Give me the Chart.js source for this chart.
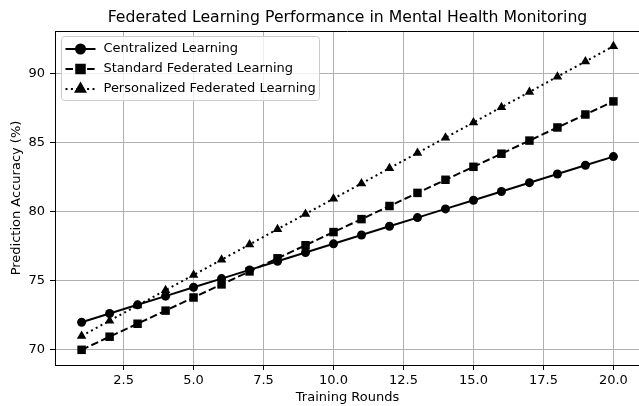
<!DOCTYPE html>
<html>
<head>
<meta charset="utf-8">
<script src="https://cdn.jsdelivr.net/npm/chart.js@4.4.1/dist/chart.umd.min.js"></script>
<style>
  html, body { margin: 0; padding: 0; overflow: hidden; background: #fff; }
  canvas { display: block; }
</style>
</head>
<body>
<canvas id="perfChart" width="640" height="406"></canvas>
<script>
// training rounds 1..20
const rounds = [1, 2, 3, 4, 5, 6, 7, 8, 9, 10, 11, 12, 13, 14, 15, 16, 17, 18, 19, 20];

// accuracy (%)
const centralized = [72.0, 72.63, 73.26, 73.89, 74.53, 75.16, 75.79, 76.42, 77.05, 77.68,
                     78.32, 78.95, 79.58, 80.21, 80.84, 81.47, 82.11, 82.74, 83.37, 84.0];
const standardFL = [70.0, 70.95, 71.89, 72.84, 73.79, 74.74, 75.68, 76.63, 77.58, 78.53,
                    79.47, 80.42, 81.37, 82.32, 83.26, 84.21, 85.16, 86.11, 87.05, 88.0];
const personalizedFL = [71.0, 72.11, 73.21, 74.32, 75.42, 76.53, 77.63, 78.74, 79.84, 80.95,
                        82.05, 83.16, 84.26, 85.37, 86.47, 87.58, 88.68, 89.79, 90.89, 92.0];

const seriesNames = ["Centralized Learning", "Standard Federated Learning", "Personalized Federated Learning"];

const xTicks = [2.5, 5.0, 7.5, 10.0, 12.5, 15.0, 17.5, 20.0];
const yTicks = [70, 75, 80, 85, 90];

const FONT = "'DejaVu Sans', sans-serif";

function toPoints(vals) {
    return vals.map((v, i) => ({ x: rounds[i], y: v }));
}

// title, top spine and the boxed legend (matplotlib style)
const extrasPlugin = {
    id: "extras",
    afterDraw(chart) {
        const ctx = chart.ctx;
        const area = chart.chartArea;
        ctx.save();

        // top spine
        ctx.strokeStyle = "#000";
        ctx.lineWidth = 1;
        ctx.beginPath();
        ctx.moveTo(area.left, area.top + 0.5);
        ctx.lineTo(area.right, area.top + 0.5);
        ctx.stroke();

        // title
        ctx.fillStyle = "#000";
        ctx.font = "15.7px " + FONT;
        ctx.textAlign = "center";
        ctx.textBaseline = "middle";
        ctx.fillText("Federated Learning Performance in Mental Health Monitoring", (area.left + area.right) / 2, 18);

        // legend frame
        const bx = area.left + 6.5, by = area.top + 5.5, bw = 258, bh = 64, r = 3;
        ctx.beginPath();
        ctx.moveTo(bx + r, by);
        ctx.arcTo(bx + bw, by, bx + bw, by + bh, r);
        ctx.arcTo(bx + bw, by + bh, bx, by + bh, r);
        ctx.arcTo(bx, by + bh, bx, by, r);
        ctx.arcTo(bx, by, bx + bw, by, r);
        ctx.closePath();
        ctx.fillStyle = "rgba(255,255,255,0.8)";
        ctx.fill();
        ctx.strokeStyle = "#cccccc";
        ctx.stroke();

        chart.data.datasets.forEach((ds, i) => {
            const yy = by + 12.5 + i * 20;
            ctx.strokeStyle = ds.borderColor;
            ctx.lineWidth = ds.borderWidth;
            ctx.setLineDash(ds.borderDash || []);
            ctx.beginPath();
            ctx.moveTo(bx + 4, yy);
            ctx.lineTo(bx + 34, yy);
            ctx.stroke();
            ctx.setLineDash([]);
            Chart.helpers.drawPoint(ctx, {
                pointStyle: ds.pointStyle,
                radius: ds.pointRadius,
                borderWidth: 1,
                rotation: 0
            }, bx + 19, yy);
            ctx.fillStyle = "#000";
            ctx.fill();
            ctx.fillStyle = "#000";
            ctx.font = "13px " + FONT;
            ctx.textAlign = "left";
            ctx.textBaseline = "middle";
            ctx.fillText(ds.label, bx + 42, yy);
        });
        ctx.restore();
    }
};

const chart = new Chart(document.getElementById("perfChart").getContext("2d"), {
    type: "line",
    data: {
        datasets: [
            {
                label: seriesNames[0],
                data: toPoints(centralized),
                borderColor: "#000",
                backgroundColor: "#000",
                borderWidth: 2,
                pointStyle: "circle",
                pointRadius: 4.5,
                pointBorderWidth: 0
            },
            {
                label: seriesNames[1],
                data: toPoints(standardFL),
                borderColor: "#000",
                backgroundColor: "#000",
                borderWidth: 2,
                borderDash: [7.5, 3.3],
                pointStyle: "rect",
                pointRadius: 6,
                pointBorderWidth: 0
            },
            {
                label: seriesNames[2],
                data: toPoints(personalizedFL),
                borderColor: "#000",
                backgroundColor: "#000",
                borderWidth: 2,
                borderDash: [2, 3.4],
                pointStyle: "triangle",
                pointRadius: 5.5,
                pointBorderWidth: 0
            }
        ]
    },
    options: {
        responsive: false,
        animation: false,
        layout: { autoPadding: false, padding: { top: 31, left: 0, right: 0, bottom: 0 } },
        plugins: {
            legend: { display: false },
            title: { display: false },
            tooltip: { enabled: false }
        },
        scales: {
            x: {
                type: "linear",
                min: 0.05,
                max: 20.95,
                afterBuildTicks: (scale) => { scale.ticks = xTicks.map(v => ({ value: v })); },
                afterFit: (scale) => {
                    scale.height = 41;
                    scale.paddingLeft = 0;
                    scale.paddingRight = 0;
                },
                ticks: {
                    color: "#000",
                    font: { family: FONT, size: 13 },
                    padding: 3,
                    maxRotation: 0,
                    callback: (v) => v.toFixed(1)
                },
                grid: { color: "#b0b0b0", lineWidth: 1, tickColor: "#000", tickLength: 5 },
                border: { display: true, color: "#000", width: 1 },
                title: {
                    display: true,
                    text: "Training Rounds",
                    color: "#000",
                    font: { family: FONT, size: 13 },
                    padding: { top: 0, bottom: 1 }
                }
            },
            y: {
                type: "linear",
                min: 68.9,
                max: 93.1,
                afterBuildTicks: (scale) => { scale.ticks = yTicks.map(v => ({ value: v })); },
                afterFit: (scale) => {
                    scale.width = 55;
                    scale.paddingTop = 0;
                    scale.paddingBottom = 0;
                },
                ticks: {
                    color: "#000",
                    font: { family: FONT, size: 13 },
                    padding: 5,
                    callback: (v) => String(v)
                },
                grid: { color: "#b0b0b0", lineWidth: 1, tickColor: "#000", tickLength: 5 },
                border: { display: true, color: "#000", width: 1 },
                title: {
                    display: true,
                    text: "Prediction Accuracy (%)",
                    color: "#000",
                    font: { family: FONT, size: 13 },
                    padding: { top: 9, bottom: 0 }
                }
            }
        }
    },
    plugins: [extrasPlugin]
});
</script>
</body>
</html>
